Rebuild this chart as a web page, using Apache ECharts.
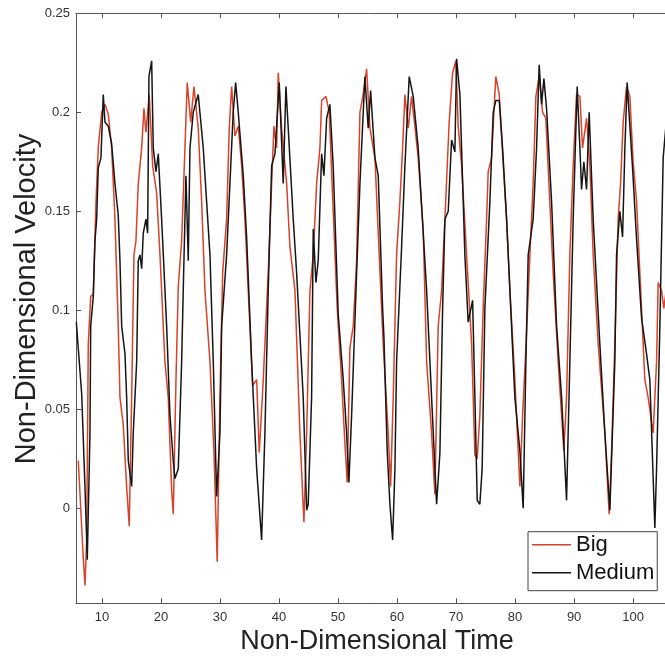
<!DOCTYPE html>
<html>
<head>
<meta charset="utf-8">
<script src="https://cdn.jsdelivr.net/npm/echarts@6/dist/echarts.min.js"></script>
<style>
html,body{margin:0;padding:0;background:#fff;}
#chart{width:665px;height:663px;}
</style>
</head>
<body>
<div id="chart"></div>
<script>
// ---- data ----
const seriesNames = ['Big', 'Medium'];
const xTitle = 'Non-Dimensional Time';
const yTitle = 'Non-Dimensional Velocity';
const xTicks = [10, 20, 30, 40, 50, 60, 70, 80, 90, 100];
const yTicks = [0, 0.05, 0.1, 0.15, 0.2, 0.25];

const bigX = [5.99,6.83,7.12,7.41,7.68,8.09,8.53,8.98,9.37,9.95,10.51,11.07,11.64,12.20,12.76,13.05,13.61,14.18,14.62,15.03,15.42,15.76,16.15,16.73,17.11,17.45,18.01,18.59,19.27,19.83,20.67,21.23,21.81,22.08,22.54,22.93,23.50,24.06,24.45,25.03,25.59,26.31,26.89,27.45,28.30,28.97,29.53,29.99,30.45,31.12,31.57,31.97,32.53,33.09,33.67,34.23,34.78,35.53,36.21,36.65,37.33,38.17,38.75,39.14,39.59,39.87,40.44,41.29,41.85,42.70,43.54,44.22,44.68,45.24,45.80,46.37,46.93,47.22,47.95,48.51,49.18,49.86,50.60,51.16,51.55,52.01,52.57,53.15,53.71,54.26,54.84,55.40,56.25,56.81,57.65,58.50,58.91,59.35,59.92,60.48,60.94,61.33,61.89,62.46,63.02,63.58,64.43,65.01,65.85,66.41,66.97,67.55,68.39,68.83,69.41,69.97,70.36,70.94,71.78,72.63,73.19,73.58,74.03,74.59,75.17,75.44,76.02,76.41,76.74,77.31,77.88,78.56,79.12,79.96,80.81,81.27,81.83,82.51,83.06,83.52,84.08,84.66,85.21,85.78,86.45,87.30,87.88,88.26,88.72,89.28,89.84,90.41,90.98,91.43,92.11,92.67,93.23,94.08,95.21,95.94,96.35,96.90,97.46,97.87,98.31,98.88,99.45,100.00,100.58,101.14,101.98,102.54,103.39,103.97,104.24,104.81,105.20,105.60];
const bigY = [0.024,-0.025,-0.039,-0.016,0.083,0.107,0.108,0.154,0.182,0.200,0.204,0.199,0.182,0.146,0.092,0.056,0.042,0.011,-0.009,0.056,0.128,0.135,0.164,0.182,0.202,0.190,0.209,0.173,0.159,0.128,0.074,0.056,0.009,-0.003,0.065,0.112,0.135,0.182,0.215,0.195,0.213,0.192,0.155,0.110,0.074,0.029,-0.027,0.056,0.119,0.146,0.192,0.213,0.188,0.193,0.173,0.146,0.110,0.062,0.065,0.028,0.065,0.119,0.164,0.193,0.182,0.220,0.192,0.164,0.132,0.110,0.038,-0.007,0.038,0.110,0.128,0.164,0.182,0.206,0.208,0.200,0.150,0.101,0.065,0.033,0.013,0.081,0.092,0.125,0.200,0.209,0.222,0.192,0.177,0.139,0.083,0.038,0.011,0.056,0.128,0.155,0.182,0.209,0.192,0.208,0.193,0.177,0.141,0.074,0.038,0.007,0.092,0.110,0.165,0.195,0.220,0.226,0.193,0.173,0.128,0.083,0.027,0.025,0.047,0.101,0.146,0.170,0.177,0.200,0.218,0.209,0.179,0.146,0.110,0.065,0.011,0.047,0.081,0.128,0.164,0.208,0.218,0.200,0.197,0.161,0.119,0.074,0.047,0.029,0.056,0.128,0.173,0.209,0.208,0.182,0.197,0.173,0.128,0.083,0.038,-0.003,0.029,0.083,0.146,0.164,0.195,0.213,0.208,0.175,0.155,0.119,0.065,0.056,0.038,0.074,0.114,0.110,0.101,0.110];

const medX = [5.65,6.56,7.12,7.51,7.97,8.09,8.53,8.81,9.10,9.37,9.83,10.22,10.51,11.07,11.64,12.20,12.76,13.05,13.34,13.90,14.18,14.46,15.03,15.30,15.88,16.15,16.44,16.73,17.00,17.45,17.74,17.96,18.42,18.69,19.15,19.54,20.11,20.96,21.52,22.08,22.37,22.93,23.50,23.77,24.23,24.62,24.91,25.47,26.31,27.16,28.30,28.86,29.43,29.99,30.28,31.12,31.68,32.24,32.65,33.09,33.94,34.51,35.36,36.21,37.05,37.61,38.17,38.75,39.31,40.04,40.71,41.17,42.41,42.98,44.10,44.68,44.95,45.52,45.80,46.25,46.64,47.22,47.61,48.07,48.62,49.18,50.03,50.88,51.45,51.84,52.30,53.15,53.71,54.55,55.11,55.52,56.25,56.81,57.55,57.77,58.33,58.79,59.25,59.64,59.92,60.77,61.33,62.06,62.74,63.58,64.43,65.01,65.85,66.70,67.26,67.72,68.11,68.67,69.24,69.80,70.09,70.65,71.49,72.05,72.80,73.19,73.58,74.03,74.42,74.88,75.73,76.29,76.74,77.31,77.88,78.56,79.96,80.81,81.37,81.83,82.22,83.06,83.64,84.08,84.49,84.88,85.33,86.18,87.03,87.88,88.72,89.28,89.84,90.52,90.98,91.26,91.65,92.11,92.55,93.23,94.36,95.21,96.06,96.90,97.19,97.75,98.21,98.60,98.99,99.45,99.90,100.58,101.43,102.27,102.83,103.68,103.97,104.53,105.09,105.90];
const medY = [0.094,0.058,0.011,-0.026,0.038,0.092,0.107,0.135,0.146,0.172,0.177,0.209,0.195,0.193,0.184,0.164,0.148,0.125,0.092,0.078,0.056,0.024,0.011,0.038,0.074,0.125,0.128,0.121,0.139,0.146,0.139,0.218,0.226,0.182,0.170,0.179,0.146,0.092,0.047,0.024,0.015,0.020,0.074,0.110,0.168,0.125,0.182,0.200,0.209,0.182,0.128,0.074,0.006,0.038,0.092,0.128,0.164,0.200,0.215,0.200,0.168,0.137,0.074,0.020,-0.016,0.038,0.110,0.173,0.179,0.215,0.164,0.213,0.146,0.119,0.056,-0.001,0.002,0.056,0.141,0.114,0.125,0.179,0.168,0.197,0.204,0.173,0.098,0.065,0.038,0.013,0.047,0.119,0.164,0.218,0.192,0.211,0.177,0.168,0.101,0.087,0.029,0.002,-0.016,0.020,0.074,0.132,0.173,0.218,0.208,0.182,0.139,0.110,0.056,0.002,0.028,0.101,0.146,0.150,0.186,0.180,0.227,0.209,0.128,0.094,0.105,0.056,0.004,0.002,0.020,0.101,0.155,0.200,0.206,0.206,0.182,0.146,0.056,0.029,0.000,0.074,0.128,0.146,0.182,0.224,0.204,0.217,0.202,0.155,0.092,0.056,0.004,0.074,0.146,0.213,0.182,0.161,0.175,0.161,0.200,0.146,0.083,0.038,-0.001,0.074,0.128,0.150,0.137,0.182,0.215,0.193,0.172,0.136,0.096,0.078,0.065,-0.010,0.020,0.092,0.177,0.205];

const xMin = 5.6, xMax = 105.4;
const yMin = -0.048, yMax = 0.25;

function pairs(xs, ys) { return xs.map((x, i) => [x, ys[i]]); }

const FONT = '"Liberation Sans", Arial, sans-serif';
const axisColor = '#555';

const chart = echarts.init(document.getElementById('chart'), null, {renderer: 'canvas'});
chart.setOption({
  animation: false,
  backgroundColor: '#fff',
  textStyle: {fontFamily: FONT},
  grid: {left: 76, top: 13.3, right: 0, bottom: 59.7, containLabel: false},
  legend: {
    data: seriesNames.map(n => ({name: n, icon: 'rect'})),
    left: 528, top: 531.7,
    orient: 'vertical',
    itemWidth: 39, itemHeight: 1.5, itemGap: 6,
    padding: [2, 3, 7, 4],
    backgroundColor: '#fff',
    borderColor: '#444', borderWidth: 1, borderRadius: 0,
    textStyle: {fontSize: 22, lineHeight: 22, color: '#111', fontFamily: FONT}
  },
  graphic: [{
    type: 'text', x: 377, y: 642, silent: true,
    style: {text: xTitle, fontSize: 27, fontFamily: FONT, fill: '#222', textAlign: 'center', textVerticalAlign: 'middle'}
  }, {
    type: 'text', x: 27, y: 299, rotation: Math.PI / 2, silent: true,
    style: {text: yTitle, fontSize: 29, fontFamily: FONT, fill: '#222', textAlign: 'center', textVerticalAlign: 'middle'}
  }],
  xAxis: [{
    type: 'value', min: xMin, max: xMax, position: 'bottom',
    axisLine: {show: true, onZero: false, lineStyle: {color: axisColor, width: 1}},
    axisTick: {show: true, inside: true, length: 5, customValues: xTicks, lineStyle: {color: axisColor}},
    axisLabel: {show: true, customValues: xTicks, margin: 8, fontSize: 13, color: '#333', fontFamily: FONT},
    splitLine: {show: false}
  }, {
    type: 'value', min: xMin, max: xMax, position: 'top',
    axisLine: {show: true, onZero: false, lineStyle: {color: axisColor, width: 1}},
    axisTick: {show: true, inside: true, length: 5, customValues: xTicks, lineStyle: {color: axisColor}},
    axisLabel: {show: false},
    splitLine: {show: false}
  }],
  yAxis: [{
    type: 'value', min: yMin, max: yMax, position: 'left',
    axisLine: {show: true, onZero: false, lineStyle: {color: axisColor, width: 1}},
    axisTick: {show: true, inside: true, length: 5, customValues: yTicks, lineStyle: {color: axisColor}},
    axisLabel: {show: true, customValues: yTicks, margin: 6, fontSize: 13, color: '#333', fontFamily: FONT,
      formatter: v => String(+v.toFixed(3))},
    splitLine: {show: false}
  }],
  series: [{
    name: seriesNames[0], type: 'line', symbol: 'none', showSymbol: false,
    data: pairs(bigX, bigY), clip: true,
    lineStyle: {color: '#d8412a', width: 1.5},
    itemStyle: {color: '#d8412a'}
  }, {
    name: seriesNames[1], type: 'line', symbol: 'none', showSymbol: false,
    data: pairs(medX, medY), clip: true,
    lineStyle: {color: '#151515', width: 1.5},
    itemStyle: {color: '#151515'}
  }]
});
</script>
</body>
</html>
